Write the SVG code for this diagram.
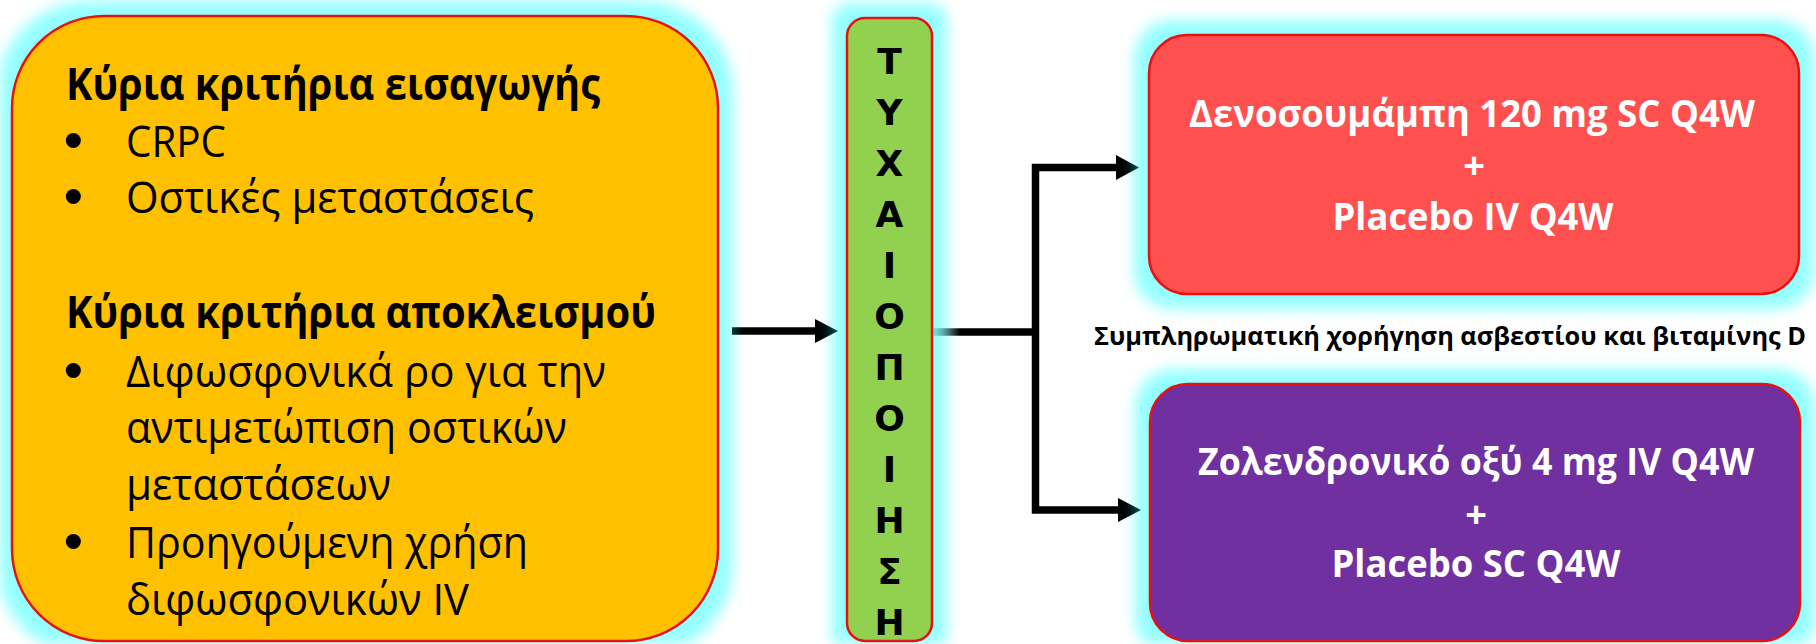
<svg xmlns="http://www.w3.org/2000/svg" width="1816" height="644" viewBox="0 0 1816 644">
  <defs>
    <!-- soft cyan halo drawn around every box -->
    <filter id="glow" filterUnits="userSpaceOnUse" x="0" y="0" width="1816" height="644">
      <feMorphology in="SourceAlpha" operator="dilate" radius="15" result="d"/>
      <feGaussianBlur in="d" stdDeviation="7" result="b"/>
      <feFlood flood-color="#00FFFF" flood-opacity="0.42"/>
      <feComposite in2="b" operator="in" result="g"/>
      <feMerge>
        <feMergeNode in="g"/>
      </feMerge>
    </filter>
    <style>
      .box { stroke: #E81010; stroke-width: 2.5; }
      .halo { filter: url(#glow); }
      .txt { font-family: "Open Sans", "Noto Sans", "DejaVu Sans", sans-serif; fill: #000; }
      .head { font-size: 44px; font-weight: bold; }
      .item { font-size: 44px; }
      .dot { font-family: "DejaVu Sans", sans-serif; font-size: 52px; fill: #000; }
      .arm { font-family: "Open Sans", "Noto Sans", "DejaVu Sans", sans-serif; font-size: 38px; font-weight: bold; fill: #fff; text-anchor: middle; }
      .col { font-family: "DejaVu Sans", "Liberation Sans", sans-serif; font-size: 36px; font-weight: bold; fill: #000; text-anchor: middle; }
      .note { font-family: "Open Sans", "Noto Sans", "DejaVu Sans", sans-serif; font-size: 25.5px; font-weight: bold; fill: #000; }
      .wire { stroke: #000; stroke-width: 7.5; fill: none; }
      .head-tip { fill: #000; }
    </style>
    <linearGradient id="fadeIn" x1="932" y1="0" x2="960" y2="0" gradientUnits="userSpaceOnUse">
      <stop offset="0" stop-color="#000" stop-opacity="0.15"/>
      <stop offset="1" stop-color="#000"/>
    </linearGradient>
  </defs>

  <rect width="1816" height="644" fill="#fff"/>

  <!-- connectors (below the boxes so the halo tints their ends) -->
  <g id="connectors">
    <line class="wire" x1="732" y1="331" x2="818" y2="331"/>
    <polygon class="head-tip" points="815,319 838,331 815,343"/>
    <line x1="932" y1="332" x2="1039" y2="332" stroke="url(#fadeIn)" stroke-width="7.5"/>
    <path class="wire" d="M1119,167.5 H1035.5 V510 H1121" stroke-linejoin="miter"/>
    <polygon class="head-tip" points="1116,155 1139,167.5 1116,180"/>
    <polygon class="head-tip" points="1118,498 1141,510 1118,522"/>
  </g>

  <!-- inclusion / exclusion criteria -->
  <g id="criteria">
    <rect class="halo" x="12" y="16" width="706" height="625" rx="92" ry="92" fill="#FFC000"/>
    <rect class="box" x="12" y="16" width="706" height="625" rx="92" ry="92" fill="#FFC000"/>
    <text class="txt head" x="66" y="100" textLength="534" lengthAdjust="spacingAndGlyphs">Κύρια κριτήρια εισαγωγής</text>
    <text class="dot" x="58" y="160">•</text>
    <text class="txt item" x="126" y="157" textLength="100" lengthAdjust="spacingAndGlyphs">CRPC</text>
    <text class="dot" x="58" y="216">•</text>
    <text class="txt item" x="126" y="213" textLength="408" lengthAdjust="spacingAndGlyphs">Οστικές μεταστάσεις</text>
    <text class="txt head" x="66" y="328" textLength="590" lengthAdjust="spacingAndGlyphs">Κύρια κριτήρια αποκλεισμού</text>
    <text class="dot" x="58" y="390">•</text>
    <text class="txt item" x="126" y="387" textLength="480" lengthAdjust="spacingAndGlyphs">Διφωσφονικά ρο για την</text>
    <text class="txt item" x="126" y="443" textLength="441" lengthAdjust="spacingAndGlyphs">αντιμετώπιση οστικών</text>
    <text class="txt item" x="126" y="500" textLength="265" lengthAdjust="spacingAndGlyphs">μεταστάσεων</text>
    <text class="dot" x="58" y="561">•</text>
    <text class="txt item" x="126" y="558" textLength="402" lengthAdjust="spacingAndGlyphs">Προηγούμενη χρήση</text>
    <text class="txt item" x="126" y="615" textLength="343" lengthAdjust="spacingAndGlyphs">διφωσφονικών IV</text>
  </g>

  <!-- randomisation column -->
  <g id="randomisation">
    <rect class="halo" x="847" y="18" width="85" height="623" rx="18" ry="18" fill="#92D050"/>
    <rect class="box" x="847" y="18" width="85" height="623" rx="18" ry="18" fill="#92D050"/>
    <text class="col" x="889.5" y="74">Τ</text>
    <text class="col" x="889.5" y="125">Υ</text>
    <text class="col" x="889.5" y="176">Χ</text>
    <text class="col" x="889.5" y="227">Α</text>
    <text class="col" x="889.5" y="278">Ι</text>
    <text class="col" x="889.5" y="329">Ο</text>
    <text class="col" x="889.5" y="380">Π</text>
    <text class="col" x="889.5" y="431">Ο</text>
    <text class="col" x="889.5" y="482">Ι</text>
    <text class="col" x="889.5" y="533">Η</text>
    <text class="col" x="889.5" y="584">Σ</text>
    <text class="col" x="889.5" y="635">Η</text>
  </g>

  <!-- denosumab arm -->
  <g id="arm-denosumab">
    <rect class="halo" x="1149" y="35" width="650" height="259" rx="38" ry="38" fill="#FF5050"/>
    <rect class="box" x="1149" y="35" width="650" height="259" rx="38" ry="38" fill="#FF5050"/>
    <text class="arm" x="1472" y="127" textLength="566" lengthAdjust="spacingAndGlyphs">Δενοσουμάμπη 120 mg SC Q4W</text>
    <text class="arm" x="1474" y="179">+</text>
    <text class="arm" x="1473" y="230" textLength="281" lengthAdjust="spacingAndGlyphs">Placebo IV Q4W</text>
  </g>

  <!-- supplementation note -->
  <text id="supplement-note" class="note" x="1094" y="345" textLength="712" lengthAdjust="spacingAndGlyphs">Συμπληρωματική χορήγηση ασβεστίου και βιταμίνης D</text>

  <!-- zoledronic acid arm -->
  <g id="arm-zoledronic">
    <rect class="halo" x="1150" y="384" width="650" height="257" rx="38" ry="38" fill="#7030A0"/>
    <rect class="box" x="1150" y="384" width="650" height="257" rx="38" ry="38" fill="#7030A0"/>
    <text class="arm" x="1476" y="475" textLength="556" lengthAdjust="spacingAndGlyphs">Ζολενδρονικό οξύ 4 mg IV Q4W</text>
    <text class="arm" x="1476" y="528">+</text>
    <text class="arm" x="1476" y="577" textLength="289" lengthAdjust="spacingAndGlyphs">Placebo SC Q4W</text>
  </g>
</svg>
